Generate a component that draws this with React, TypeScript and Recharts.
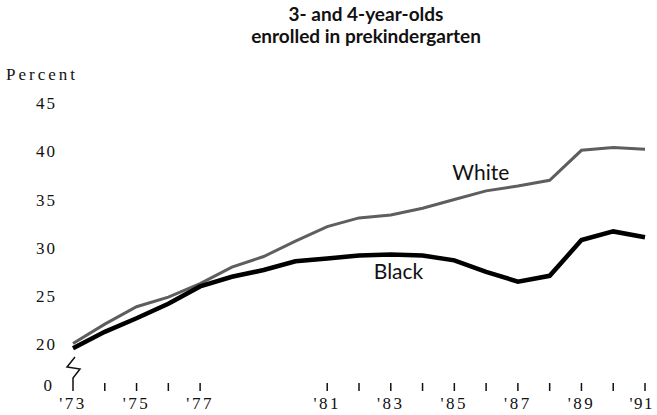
import { LineChart, Line, XAxis, YAxis } from "recharts";

const YEARS = [73, 74, 75, 76, 77, 78, 79, 80, 81, 82, 83, 84, 85, 86, 87, 88, 89, 90, 91];
const WHITE = [20.1, 22.1, 23.9, 24.9, 26.3, 28.0, 29.1, 30.7, 32.2, 33.1, 33.4, 34.1, 35.0, 35.9, 36.4, 37.0, 40.1, 40.4, 40.2];
const BLACK = [19.6, 21.3, 22.7, 24.2, 26.0, 27.0, 27.7, 28.6, 28.9, 29.2, 29.3, 29.2, 28.7, 27.5, 26.5, 27.1, 30.8, 31.7, 31.1];
const TICK_YEARS = [73, 74, 75, 76, 77, 81, 82, 83, 84, 85, 86, 87, 88, 89, 90, 91];
const LABEL_YEARS = [73, 75, 77, 81, 83, 85, 87, 89, 91];
const Y_TICKS = [16, 20, 25, 30, 35, 40, 45];

const data = YEARS.map((year, i) => ({ year, white: WHITE[i], black: BLACK[i] }));

const SERIF = "'Liberation Serif', 'DejaVu Serif', serif";
const SANS = "Lato, 'Open Sans', sans-serif";

const YTick = ({ x, y, payload }: any) => {
  if (payload.value === 16) {
    return (
      <g>
        <text x={x - 3} y={y + 2} dy="0.35em" textAnchor="end" fontFamily={SERIF} fontSize={17} letterSpacing={2} fill="#111">
          0
        </text>
        <path
          d={`M${x + 18} ${y - 26} L${x + 10} ${y - 16} L${x + 23} ${y - 14} L${x + 16} ${y - 5} L${x + 16} ${y}`}
          fill="none"
          stroke="#111"
          strokeWidth={1.5}
        />
      </g>
    );
  }
  return (
    <text x={x} y={y} dy="0.35em" textAnchor="end" fontFamily={SERIF} fontSize={17} letterSpacing={2} fill="#111">
      {payload.value}
    </text>
  );
};

const XTick = ({ x, y, payload }: any) => {
  if (!LABEL_YEARS.includes(payload.value)) return null;
  const last = payload.value === LABEL_YEARS[LABEL_YEARS.length - 1];
  return (
    <text
      x={last ? x + 9 : x}
      y={y}
      dy="0.71em"
      textAnchor={last ? "end" : "middle"}
      fontFamily={SERIF}
      fontSize={17}
      letterSpacing={last ? 1.5 : 2.5}
      fill="#111"
    >
      {"'" + payload.value}
    </text>
  );
};

const seriesLabel = (text: string, index: number, dx: number, dy: number) => (props: any) => {
  if (props.index !== index) return null;
  return (
    <text x={props.x + dx} y={props.y + dy} fontFamily={SANS} fontSize={21} fill="#111">
      {text}
    </text>
  );
};

export default function App() {
  return (
    <div style={{ position: "absolute", left: 0, top: 0, width: 657, height: 415, background: "#fff" }}>
      <div
        style={{
          position: "absolute",
          left: 166,
          width: 400,
          top: 3,
          textAlign: "center",
          fontFamily: SANS,
          fontWeight: 700,
          fontSize: 19,
          lineHeight: "22px",
          color: "#111",
        }}
      >
        3- and 4-year-olds
        <br />
        enrolled in prekindergarten
      </div>
      <LineChart width={657} height={415} data={data} margin={{ top: 103, right: 12, left: 0, bottom: 0 }}>
        <XAxis
          dataKey="year"
          type="number"
          domain={[73, 91]}
          ticks={TICK_YEARS}
          interval={0}
          axisLine={false}
          tickLine={{ stroke: "#111", strokeWidth: 1.5 }}
          tickSize={8}
          tickMargin={6}
          height={32}
          tick={<XTick />}
        />
        <YAxis
          type="number"
          domain={[16, 45]}
          ticks={Y_TICKS}
          interval={0}
          axisLine={false}
          tickLine={false}
          tickSize={0}
          tickMargin={16}
          width={73}
          tick={<YTick />}
          label={() => (
            <text x={6} y={80} fontFamily={SERIF} fontSize={17} letterSpacing={3} fill="#111">
              Percent
            </text>
          )}
        />
        <Line
          dataKey="white"
          type="linear"
          stroke="#5e5e5e"
          strokeWidth={3}
          dot={false}
          isAnimationActive={false}
          label={seriesLabel("White", 12, -2, -20)}
        />
        <Line
          dataKey="black"
          type="linear"
          stroke="#000"
          strokeWidth={4.5}
          dot={false}
          isAnimationActive={false}
          label={seriesLabel("Black", 10, -17, 24)}
        />
      </LineChart>
    </div>
  );
}
